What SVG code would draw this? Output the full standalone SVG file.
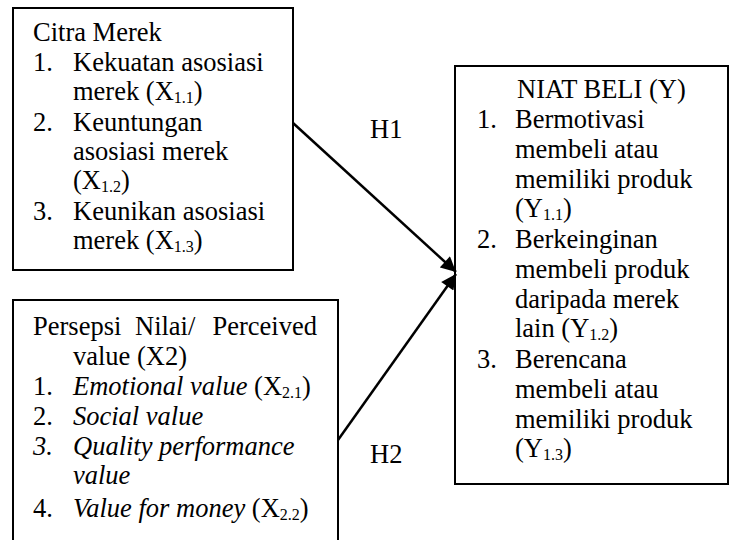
<svg xmlns="http://www.w3.org/2000/svg" width="731" height="540" viewBox="0 0 731 540">
<style>
.box{fill:#fff;stroke:#000;stroke-width:2}
text{font-family:"Liberation Serif","Times New Roman",serif;font-size:26.5px;fill:#000}
.it{font-style:italic}
.sub{font-size:16px}
.conn{stroke:#000;stroke-width:2.5;fill:none}
</style>
<defs>
<marker id="ah" viewBox="0 0 10 10" refX="10" refY="5" markerWidth="6.5" markerHeight="6" orient="auto" markerUnits="strokeWidth">
<path d="M0,0 L10,5 L0,10 z" fill="#000"/>
</marker>
</defs>
<rect width="731" height="540" fill="#fff"/>
<g id="citra-merek">
<rect class="box" x="13" y="8" width="280" height="262"/>
<text x="33" y="41">Citra Merek</text>
<text x="33" y="71">1.</text><text x="73" y="71">Kekuatan asosiasi</text>
<text x="73" y="100">merek (X<tspan class="sub" dy="3">1.1</tspan><tspan dy="-3">)</tspan></text>
<text x="33" y="131">2.</text><text x="73" y="131">Keuntungan</text>
<text x="73" y="160">asosiasi merek</text>
<text x="73" y="189">(X<tspan class="sub" dy="3">1.2</tspan><tspan dy="-3">)</tspan></text>
<text x="33" y="220">3.</text><text x="73" y="220">Keunikan asosiasi</text>
<text x="73" y="249">merek (X<tspan class="sub" dy="3">1.3</tspan><tspan dy="-3">)</tspan></text>
</g>
<g id="persepsi-nilai">
<rect class="box" x="13" y="300" width="325" height="250"/>
<text x="33" y="335">Persepsi</text><text x="135" y="335">Nilai/</text><text x="317" y="335" text-anchor="end">Perceived</text>
<text x="73" y="365">value (X2)</text>
<text x="33" y="395">1.</text><text x="73" y="395"><tspan class="it">Emotional value</tspan> (X<tspan class="sub" dy="3">2.1</tspan><tspan dy="-3">)</tspan></text>
<text x="33" y="425">2.</text><text x="73" y="425" class="it">Social value</text>
<text x="33" y="455" class="it">3.</text><text x="73" y="455" class="it">Quality performance</text>
<text x="73" y="484" class="it">value</text>
<text x="33" y="517">4.</text><text x="73" y="517"><tspan class="it">Value for money</tspan> (X<tspan class="sub" dy="3">2.2</tspan><tspan dy="-3">)</tspan></text>
</g>
<g id="niat-beli">
<rect class="box" x="455" y="66" width="273" height="418"/>
<text x="517" y="98">NIAT BELI (Y)</text>
<text x="477" y="128">1.</text><text x="515" y="128">Bermotivasi</text>
<text x="515" y="158">membeli atau</text>
<text x="515" y="188">memiliki produk</text>
<text x="515" y="217">(Y<tspan class="sub" dy="3">1.1</tspan><tspan dy="-3">)</tspan></text>
<text x="477" y="248">2.</text><text x="515" y="248">Berkeinginan</text>
<text x="515" y="278">membeli produk</text>
<text x="515" y="308">daripada merek</text>
<text x="515" y="337">lain (Y<tspan class="sub" dy="3">1.2</tspan><tspan dy="-3">)</tspan></text>
<text x="477" y="368">3.</text><text x="515" y="368">Berencana</text>
<text x="515" y="398">membeli atau</text>
<text x="515" y="428">memiliki produk</text>
<text x="515" y="457">(Y<tspan class="sub" dy="3">1.3</tspan><tspan dy="-3">)</tspan></text>
</g>
<g id="connectors">
<line class="conn" x1="293" y1="123" x2="456" y2="272" marker-end="url(#ah)"/>
<line class="conn" x1="338" y1="440" x2="456" y2="274" marker-end="url(#ah)"/>
<text x="370" y="138">H1</text>
<text x="370" y="463">H2</text>
</g>
</svg>
